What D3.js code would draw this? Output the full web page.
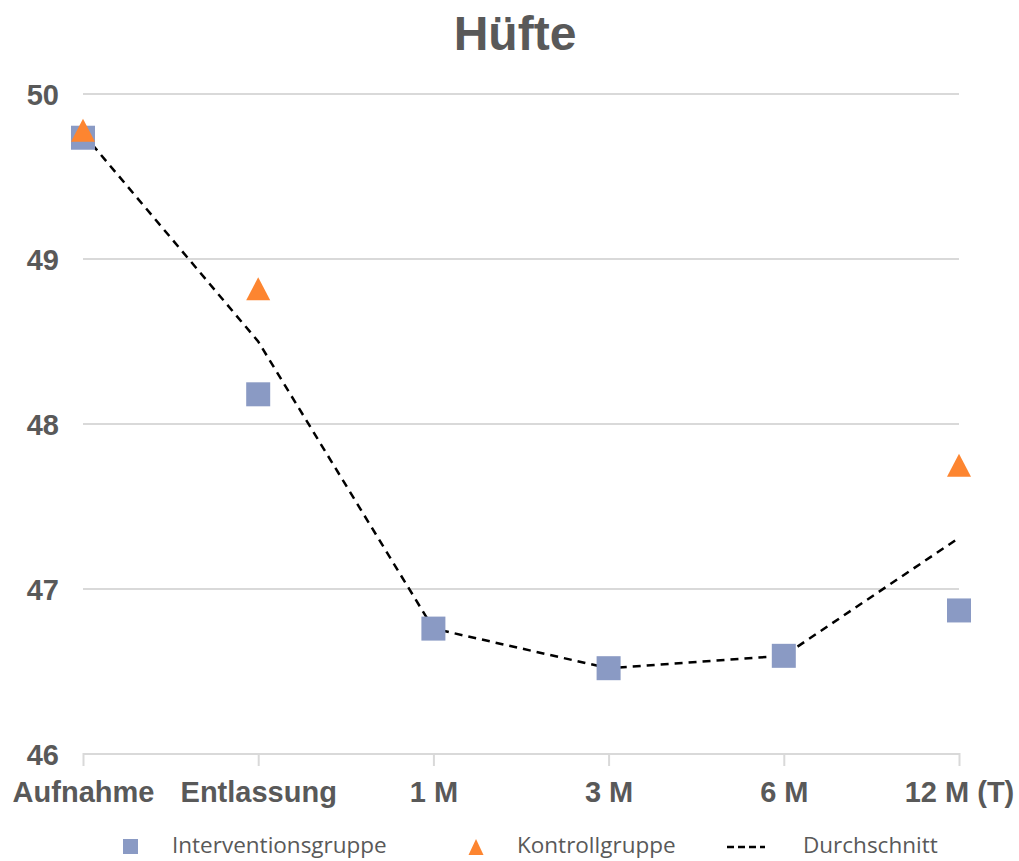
<!DOCTYPE html>
<html>
<head>
<meta charset="utf-8">
<script src="https://cdn.jsdelivr.net/npm/d3@7"></script>
<style>
  html, body { margin: 0; padding: 0; background: #fff; }
  svg { display: block; }
</style>
</head>
<body>
<svg id="chart" width="1019" height="861"></svg>
<script>
// Measurement points along the follow-up timeline
const categories = ["Aufnahme", "Entlassung", "1 M", "3 M", "6 M", "12 M (T)"];
// Intervention group means (all time points)
const interventionValues = [49.735, 48.18, 46.76, 46.52, 46.595, 46.87];
// Control group means (only measured at three time points)
const controlValues = [49.78, 48.82, null, null, null, 47.75];
// Overall average
const averageValues = [49.76, 48.5, 46.76, 46.52, 46.595, 47.31];
const yTicks = [46, 47, 48, 49, 50];

const svg = d3.select("#chart");

const x = d3.scalePoint().domain(categories).range([83, 959]);
const y = d3.scaleLinear().domain([46, 50]).range([754, 94]);

const textColor = "#595959";
const gridColor = "#d9d9d9";
const boldFont = "Liberation Sans, Arial, sans-serif";

// Title
svg.append("text")
  .attr("x", 515).attr("y", 50)
  .attr("text-anchor", "middle")
  .attr("font-family", boldFont)
  .attr("font-weight", "bold")
  .attr("font-size", 48)
  .attr("fill", textColor)
  .text("Hüfte");

// Horizontal gridlines
svg.append("g")
  .selectAll("line")
  .data(yTicks)
  .join("line")
  .attr("x1", 83).attr("x2", 959)
  .attr("y1", d => y(d)).attr("y2", d => y(d))
  .attr("stroke", gridColor)
  .attr("stroke-width", 2);

// Y axis labels
const yAxis = d3.axisLeft(y).tickValues(yTicks).tickSize(0).tickPadding(0).tickFormat(d3.format("d"));
const gy = svg.append("g").attr("transform", "translate(59,0)").call(yAxis);
gy.select(".domain").remove();
gy.selectAll("text")
  .attr("font-family", boldFont)
  .attr("font-weight", "bold")
  .attr("font-size", 29)
  .attr("fill", textColor)
  .attr("dy", "0.36em");

// X axis: tick marks below the baseline and category labels
const xAxis = d3.axisBottom(x).tickSize(12).tickPadding(15);
const gx = svg.append("g").attr("transform", `translate(0,${y(46)})`).call(xAxis);
gx.select(".domain").remove();
gx.selectAll(".tick line").attr("stroke", gridColor).attr("stroke-width", 2).attr("y1", -1);
gx.selectAll("text")
  .attr("font-family", boldFont)
  .attr("font-weight", "bold")
  .attr("font-size", 29)
  .attr("fill", textColor);

// Average dashed line
const line = d3.line()
  .x((d, i) => x(categories[i]))
  .y(d => y(d));
svg.append("path")
  .datum(averageValues)
  .attr("d", line)
  .attr("fill", "none")
  .attr("stroke", "#000")
  .attr("stroke-width", 2.5)
  .attr("stroke-dasharray", "8,6");

const sq = 24;
const squareColor = "#8a9ac4";
const triColor = "#fd8530";

// Intervention markers (squares)
svg.append("g")
  .selectAll("rect")
  .data(interventionValues)
  .join("rect")
  .attr("x", (d, i) => x(categories[i]) - sq / 2)
  .attr("y", d => y(d) - sq / 2)
  .attr("width", sq).attr("height", sq)
  .attr("fill", squareColor);

// Control markers (triangles)
const tri = (cx, cy, w, h) =>
  `M${cx},${cy - h / 2}L${cx + w / 2},${cy + h / 2}L${cx - w / 2},${cy + h / 2}Z`;
svg.append("g")
  .selectAll("path")
  .data(controlValues.map((v, i) => ({ v, c: categories[i] })).filter(d => d.v != null))
  .join("path")
  .attr("d", d => tri(x(d.c), y(d.v), 24, 23))
  .attr("fill", triColor);

// Legend
const legend = svg.append("g").attr("font-family", "Open Sans, sans-serif").attr("font-size", 22.5).attr("fill", textColor);
legend.append("rect").attr("x", 123).attr("y", 839).attr("width", 15).attr("height", 15).attr("fill", squareColor);
legend.append("text").attr("x", 172).attr("y", 853).text("Interventionsgruppe");
legend.append("path").attr("d", tri(476, 847, 15, 16)).attr("fill", triColor);
legend.append("text").attr("x", 517).attr("y", 853).text("Kontrollgruppe");
legend.append("line").attr("x1", 727).attr("x2", 765).attr("y1", 847).attr("y2", 847)
  .attr("stroke", "#000").attr("stroke-width", 2.5).attr("stroke-dasharray", "7,4");
legend.append("text").attr("x", 803).attr("y", 853).text("Durchschnitt");
</script>
</body>
</html>
